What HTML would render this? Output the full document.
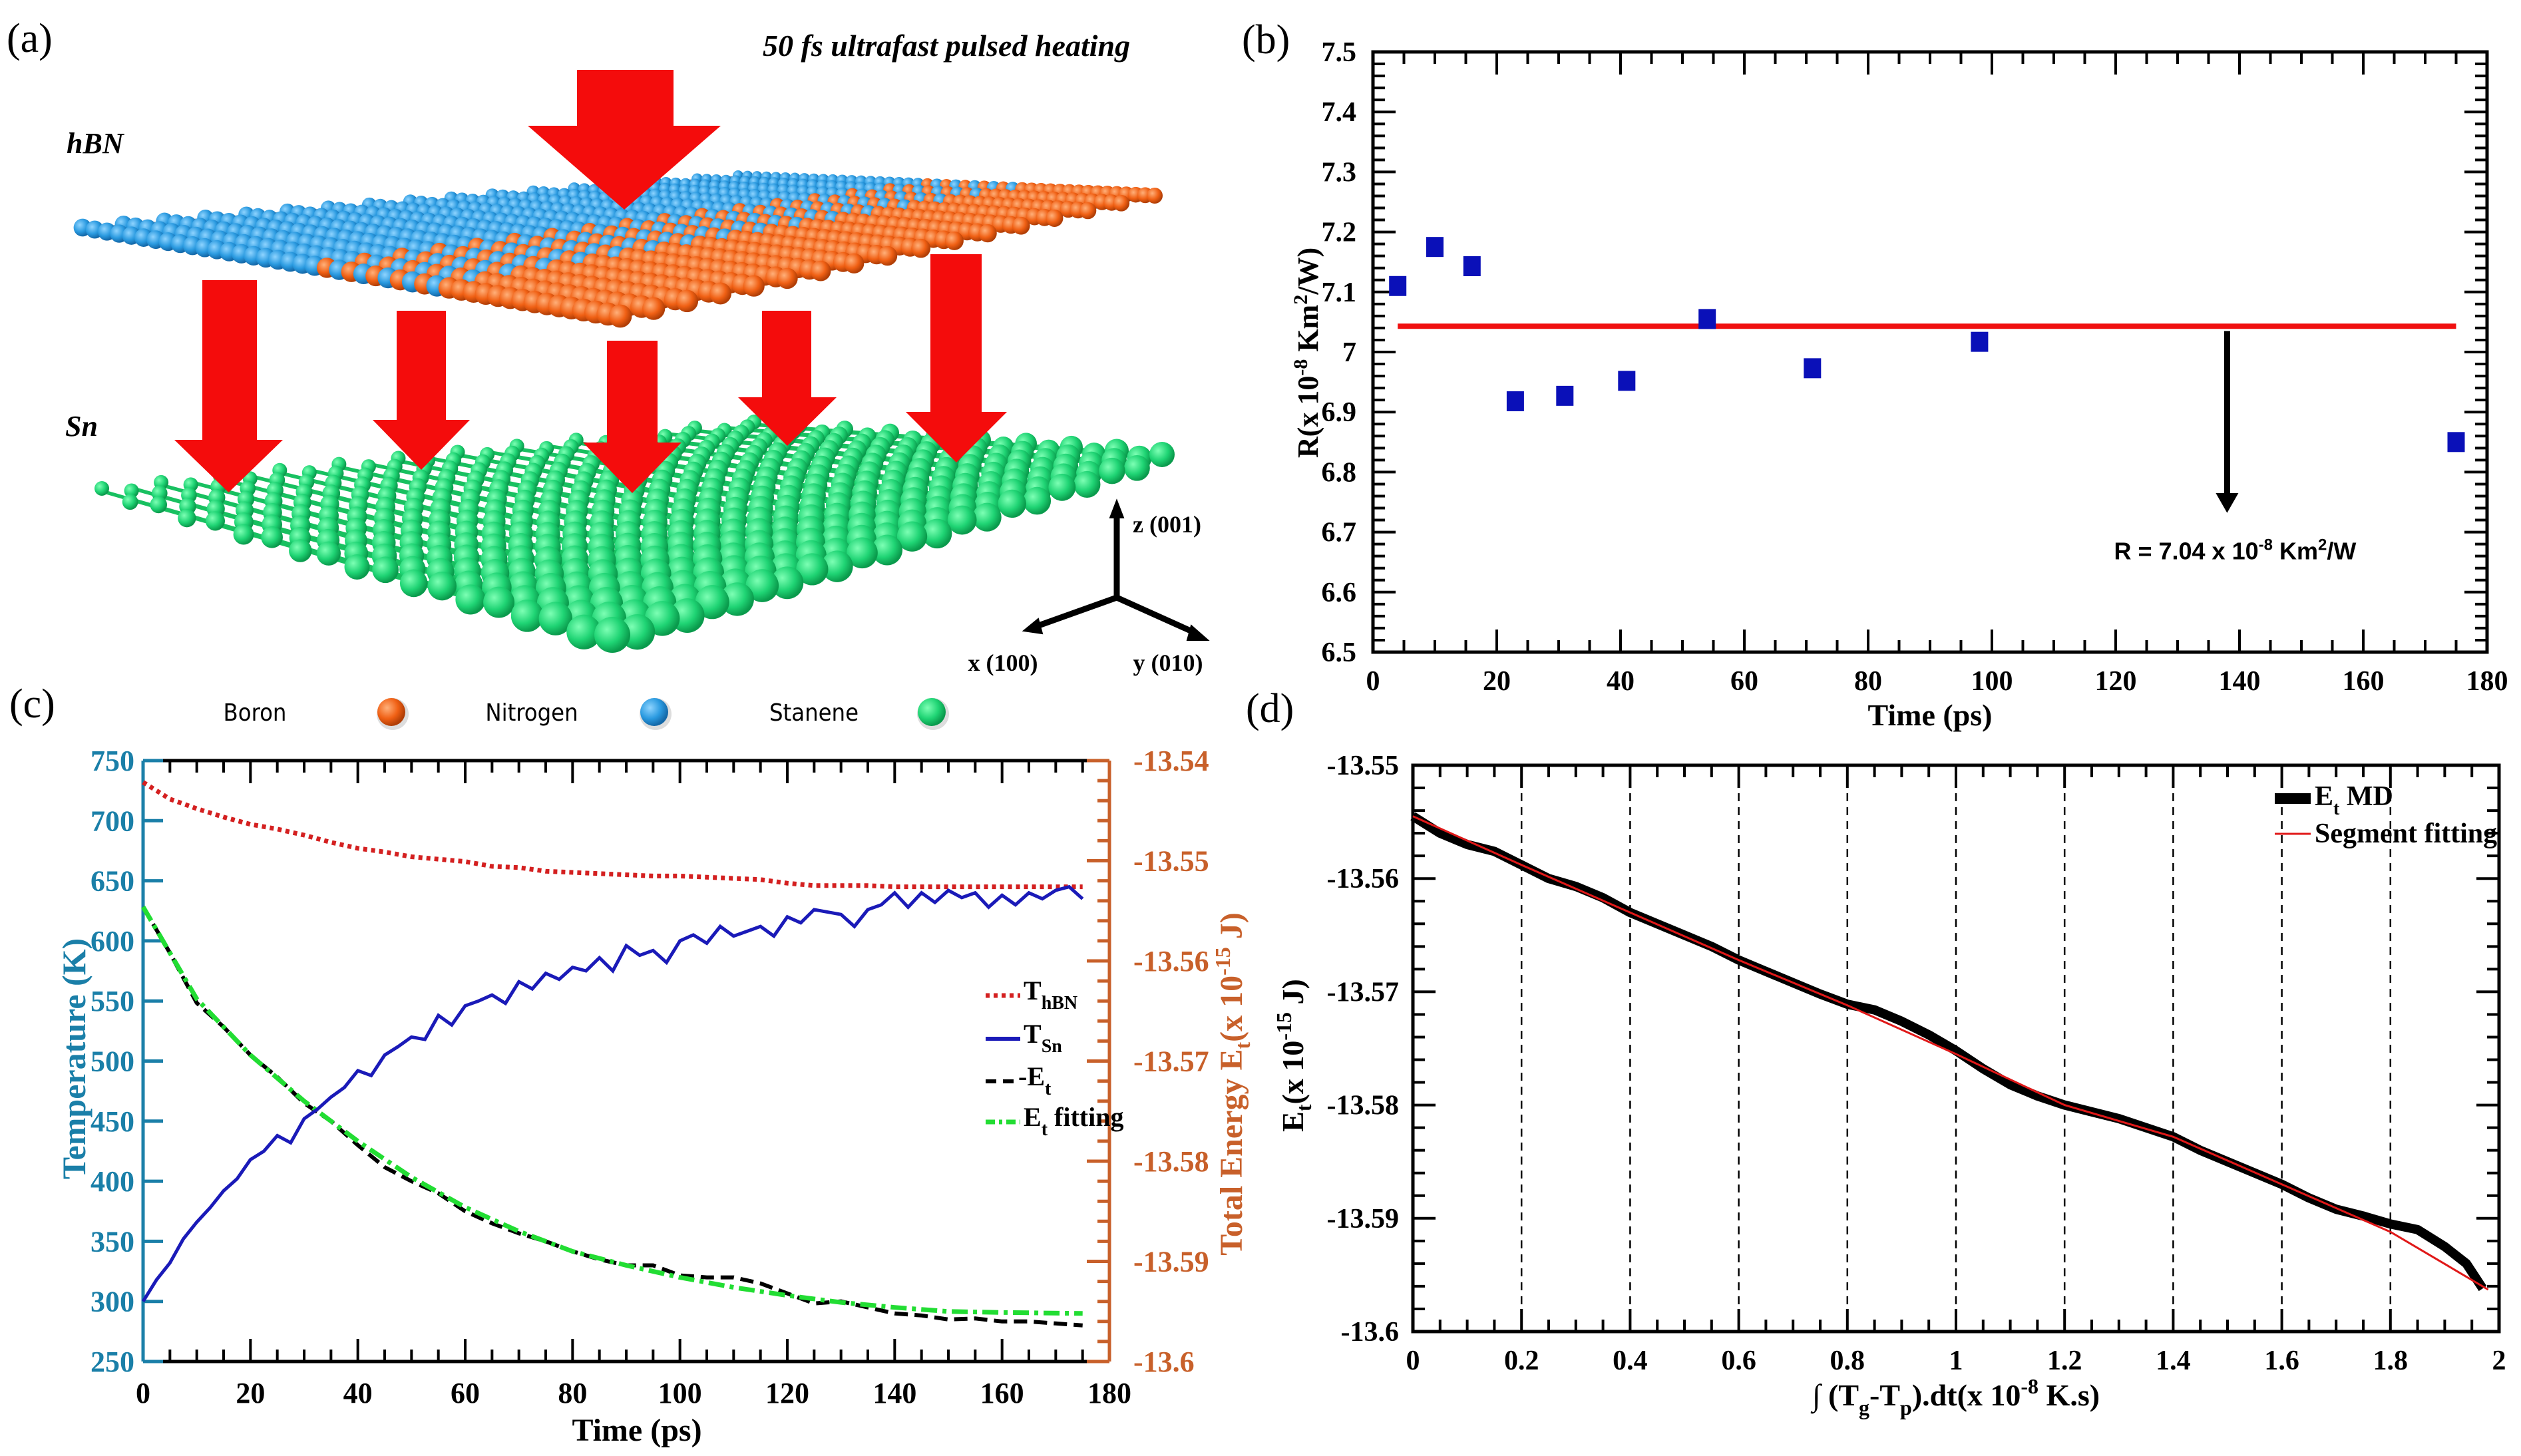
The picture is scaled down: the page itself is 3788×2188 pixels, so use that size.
<!DOCTYPE html>
<html><head><meta charset="utf-8"><style>
html,body{margin:0;padding:0;background:#fff}
svg{display:block}
text{font-family:"Liberation Serif",serif}
</style></head><body>
<svg id="fig" width="3788" height="2188" viewBox="0 0 3788 2188" xmlns="http://www.w3.org/2000/svg">
<defs>
<radialGradient id="gG" cx="35%" cy="35%" r="65%"><stop offset="0" stop-color="#7dffb4"/><stop offset="0.6" stop-color="#1fd474"/><stop offset="1" stop-color="#0a9a4c"/></radialGradient>
<radialGradient id="gB" cx="35%" cy="35%" r="65%"><stop offset="0" stop-color="#8fd4ff"/><stop offset="0.6" stop-color="#2a9ae0"/><stop offset="1" stop-color="#1468a8"/></radialGradient>
<radialGradient id="gO" cx="35%" cy="35%" r="65%"><stop offset="0" stop-color="#ffb07a"/><stop offset="0.6" stop-color="#f06014"/><stop offset="1" stop-color="#b03e06"/></radialGradient>
</defs>
<g id="panelA"></g>
<g id="panelB"></g>
<g id="panelC"></g>
<g id="panelD"></g>
</svg>
<script>
// ---------- Panel (b) data ----------
const bTimes = [4, 10, 16, 23, 31, 41, 54, 71, 98, 175];
const bR = [7.11, 7.175, 7.143, 6.918, 6.927, 6.952, 7.055, 6.973, 7.017, 6.85];
const bMean = 7.043;
const bXTicks = [0,20,40,60,80,100,120,140,160,180];
const bYTicks = ['6.5','6.6','6.7','6.8','6.9','7','7.1','7.2','7.3','7.4','7.5'];
// ---------- Panel (c) data ----------
const cTimeHBN = [0,5,10,15,20,25,30,35,40,45,50,55,60,65,70,75,80,85,90,95,100,105,110,115,120,125,130,135,140,145,150,155,160,165,170,175];
const cTHBN = [732,718,710,703,697,693,688,682,677,674,670,668,666,662,661,658,657,656,655,654,654,653,652,651,648,646,646,646,645,645,645,645,645,645,645,645];
const cTimeSn = [0,2.5,5,7.5,10,12.5,15,17.5,20,22.5,25,27.5,30,32.5,35,37.5,40,42.5,45,47.5,50,52.5,55,57.5,60,62.5,65,67.5,70,72.5,75,77.5,80,82.5,85,87.5,90,92.5,95,97.5,100,102.5,105,107.5,110,112.5,115,117.5,120,122.5,125,127.5,130,132.5,135,137.5,140,142.5,145,147.5,150,152.5,155,157.5,160,162.5,165,167.5,170,172.5,175];
const cTSn = [300,318,332,352,366,378,392,402,418,425,438,432,452,460,470,478,492,488,505,512,520,518,538,530,546,550,555,548,566,560,573,568,578,575,586,575,596,588,592,582,600,605,598,612,604,608,612,604,620,615,626,624,622,612,626,630,640,628,640,632,642,636,640,628,638,630,640,635,642,645,635];
const cTimeE = [0,5,10,15,20,25,30,35,40,45,50,55,60,65,70,75,80,85,90,95,100,105,110,115,120,125,130,135,140,145,150,155,160,165,170,175];
const cE = [-13.5546,-13.5592,-13.5642,-13.5666,-13.5694,-13.5716,-13.5742,-13.5760,-13.5784,-13.5806,-13.5820,-13.5832,-13.5850,-13.5862,-13.5872,-13.5880,-13.5890,-13.5898,-13.5904,-13.5904,-13.5914,-13.5916,-13.5916,-13.5922,-13.5932,-13.5942,-13.5940,-13.5946,-13.5952,-13.5954,-13.5958,-13.5957,-13.5960,-13.5960,-13.5962,-13.5964];
const cTimeFit = [0,10,20,30,40,50,60,70,80,90,100,110,120,130,140,150,160,175];
const cEFit = [-13.5546,-13.5638,-13.5694,-13.5740,-13.5780,-13.5816,-13.5846,-13.5870,-13.5890,-13.5904,-13.5916,-13.5926,-13.5934,-13.5941,-13.5946,-13.5950,-13.5951,-13.5952];
const cXTicks = [0,20,40,60,80,100,120,140,160,180];
const cLTicks = [250,300,350,400,450,500,550,600,650,700,750];
const cRTicks = ['-13.6','-13.59','-13.58','-13.57','-13.56','-13.55','-13.54'];
// ---------- Panel (d) data ----------
const dX = [0,0.05,0.1,0.15,0.2,0.25,0.3,0.35,0.4,0.45,0.5,0.55,0.6,0.65,0.7,0.75,0.8,0.85,0.9,0.95,1.0,1.05,1.1,1.15,1.2,1.25,1.3,1.35,1.4,1.45,1.5,1.55,1.6,1.65,1.7,1.75,1.8,1.85,1.9,1.94,1.97];
const dEMD = [-13.5545,-13.5560,-13.5570,-13.5576,-13.5588,-13.5600,-13.5607,-13.5617,-13.5630,-13.5640,-13.5650,-13.5660,-13.5672,-13.5682,-13.5692,-13.5702,-13.5711,-13.5716,-13.5726,-13.5738,-13.5752,-13.5768,-13.5782,-13.5792,-13.5800,-13.5806,-13.5812,-13.5820,-13.5828,-13.5840,-13.5850,-13.5860,-13.5870,-13.5882,-13.5892,-13.5898,-13.5905,-13.5910,-13.5925,-13.5940,-13.5962];
const dFitX = [0,0.2,0.4,0.6,0.8,1.0,1.2,1.4,1.6,1.8,1.98];
const dEFit = [-13.5545,-13.5588,-13.5630,-13.5672,-13.5712,-13.5755,-13.5800,-13.5828,-13.5870,-13.5912,-13.5963];
const dXTicks = ['0','0.2','0.4','0.6','0.8','1','1.2','1.4','1.6','1.8','2'];
const dYTicks = ['-13.6','-13.59','-13.58','-13.57','-13.56','-13.55'];

const NS='http://www.w3.org/2000/svg';
function mk(tag, attrs, parent){const e=document.createElementNS(NS,tag);for(const k in attrs)e.setAttribute(k,attrs[k]);parent.appendChild(e);return e;}
function txt(str, attrs, parent){const e=mk('text',attrs,parent);e.textContent=str;return e;}

// ===================== PANEL A =====================
const A=document.getElementById('panelA');
let t;
t=txt('(a)',{x:10,y:78,'font-size':62},A);


t=txt('50 fs ultrafast pulsed heating',{x:1146,y:84,'font-size':46,'font-weight':'bold','font-style':'italic'},A);


t=txt('hBN',{x:100,y:230,'font-size':44,'font-weight':'bold','font-style':'italic'},A);


t=txt('Sn',{x:98,y:655,'font-size':44,'font-weight':'bold','font-style':'italic'},A);



function bil(Q,u,v){ // Q: [L,B,R,F]; u along L->B (back), v along L->F
  const [L,B,R,F]=Q;
  const x=(1-u)*(1-v)*L[0]+u*(1-v)*B[0]+u*v*R[0]+(1-u)*v*F[0];
  const y=(1-u)*(1-v)*L[1]+u*(1-v)*B[1]+u*v*R[1]+(1-u)*v*F[1];
  return [x,y];
}
// green stanene sheet
const gQ=[[153,738],[1133,638],[1746,687],[920,958]];
const gSheet=mk('g',{},A);


const GU=22,GV=18;
for(let i=GU;i>=0;i--){for(let j=0;j<=GV;j++){
  const [x,y]=bil(gQ,i/GU,j/GV);
  const r=11+16*(j/GV)*(1-0.5*i/GU);
  if(j<GV){const [x2,y2]=bil(gQ,i/GU,(j+1)/GV);mk('line',{x1:x,y1:y,x2:x2,y2:y2,stroke:'#18c060','stroke-width':r*0.5},gSheet);}
}}
for(let i=GU;i>=0;i--){for(let j=0;j<=GV;j++){
  const [x,y]=bil(gQ,i/GU,j/GV);
  const r=11+16*(j/GV)*(1-0.5*i/GU);
  const c=mk('circle',{cx:x,cy:y+((i+j)%2?4:-4),r:r,fill:'url(#gG)'},gSheet);
}}
// small arrows
const arrowsSmall=[[304,386,421,661,262,425,740],[596,670,467,631,560,706,706],[912,988,512,665,876,1024,741],[1145,1219,467,597,1109,1257,670],[1398,1475,382,619,1361,1513,695]];
arrowsSmall.forEach((a,k)=>{
  const p=mk('polygon',{points:`${a[0]},${a[2]} ${a[1]},${a[2]} ${a[1]},${a[3]} ${a[5]},${a[3]} ${(a[4]+a[5])/2},${a[6]} ${a[4]},${a[3]} ${a[0]},${a[3]}`,fill:'#f40c0c'},A);
  
  
});
// hBN sheet
const hQ=[[124,342],[1109,264],[1735,294],[932,475]];
const hSheet=mk('g',{},A);


mk('polygon',{points:hQ.map(p=>p.join(',')).join(' '),fill:'#6f8fb0'},hSheet);
const HU=16,HV=44;
for(let i=HU;i>=0;i--){for(let j=0;j<=HV;j++){
  const [x,y]=bil(hQ,i/HU,j/HV);
  const r=8+9*(1-i/HU)*0.6+4*(j/HV);
  const orange=(j/HV>0.45)&&((j%2===0)||j/HV>0.7);
  mk('circle',{cx:x,cy:y,r:r,fill:orange?'url(#gO)':'url(#gB)'},hSheet);
}}
// big arrow
t=mk('polygon',{points:'867,105 1012,105 1012,189 1083,189 938,315 793,189 867,189',fill:'#f40c0c'},A);


// axes icon
const ax=mk('g',{stroke:'#000','stroke-width':9,fill:'none'},A);


mk('line',{x1:1678,y1:898,x2:1678,y2:772},ax);
mk('line',{x1:1678,y1:898,x2:1555,y2:942},ax);
mk('line',{x1:1678,y1:898,x2:1798,y2:952},ax);
mk('polygon',{points:'1678,752 1668,778 1688,778',fill:'#000','stroke-width':2},ax);
mk('polygon',{points:'1538,948 1560,930 1566,952',fill:'#000','stroke-width':2},ax);
mk('polygon',{points:'1815,962 1790,940 1784,962',fill:'#000','stroke-width':2},ax);
t=txt('z (001)',{x:1702,y:800,'font-size':36,'font-weight':'bold'},A);


t=txt('x (100)',{x:1507,y:1008,'font-size':36,'font-weight':'bold','text-anchor':'middle'},A);


t=txt('y (010)',{x:1755,y:1008,'font-size':36,'font-weight':'bold','text-anchor':'middle'},A);


// atom legend
const atomLeg=[['Boron',383,588,'url(#gO)'],['Nitrogen',799,983,'url(#gB)'],['Stanene',1223,1400,'url(#gG)']];
atomLeg.forEach(a=>{
  const g=mk('g',{},A);
  
  
  txt(a[0],{x:a[1],y:1083,'font-size':36,'text-anchor':'middle',style:'font-family:"DejaVu Sans Condensed","DejaVu Sans",sans-serif'},g);
  mk('circle',{cx:a[2]+2,cy:1073,r:24,fill:'#ddd'},g);
  mk('circle',{cx:a[2],cy:1070,r:21,fill:a[3]},g);
});

// ===================== generic axis helper =====================
function ticks(G, opts){
  // opts: {orient:'x'|'y', from,to,step, pos(v), a0 (spine coord), a1 (opposite spine), len, dir, color}
  const g=mk('g',{stroke:opts.color||'#000','stroke-width':opts.w||4},G);
  return g;
}

// ===================== PANEL B =====================
const Bg=document.getElementById('panelB');
const bx=v=>2063+v/180*(3737-2063);
const by=v=>980-(v-6.5)/1.0*(980-78);
t=txt('(b)',{x:1866,y:80,'font-size':62},Bg);


let tg=mk('g',{stroke:'#000','stroke-width':4},Bg);


for(let v=0;v<=180.001;v+=5){const L=(v%20===0)?34:18;
  mk('line',{x1:bx(v),y1:980,x2:bx(v),y2:980-L},tg);mk('line',{x1:bx(v),y1:78,x2:bx(v),y2:78+L},tg);}
for(let k=0;k<=50;k++){const v=6.5+k*0.02;const L=(k%5===0)?34:18;
  mk('line',{x1:2063,y1:by(v),x2:2063+L,y2:by(v)},tg);mk('line',{x1:3737,y1:by(v),x2:3737-L,y2:by(v)},tg);}
t=mk('rect',{x:2063,y:78,width:3737-2063,height:902,fill:'none',stroke:'#000','stroke-width':5},Bg);


bXTicks.forEach(v=>{const e=txt(String(v),{x:bx(v),y:1037,'font-size':42,'font-weight':'bold','text-anchor':'middle'},Bg);
  
  });
bYTicks.forEach(s=>{const e=txt(s,{x:2038,y:by(parseFloat(s))+14,'font-size':42,'font-weight':'bold','text-anchor':'end'},Bg);
  
  });
t=txt('Time (ps)',{x:2900,y:1090,'font-size':46,'font-weight':'bold','text-anchor':'middle'},Bg);


t=mk('text',{transform:'translate(1980,530) rotate(-90)','font-size':44,'font-weight':'bold','text-anchor':'middle'},Bg);
t.innerHTML='R(x 10<tspan dy="-16" font-size="30">-8</tspan><tspan dy="16"> Km</tspan><tspan dy="-16" font-size="30">2</tspan><tspan dy="16">/W)</tspan>';


t=mk('line',{x1:bx(4),y1:by(bMean),x2:bx(175),y2:by(bMean),stroke:'#f01010','stroke-width':8},Bg);


bTimes.forEach((v,i)=>{const r=mk('rect',{x:bx(v)-13,y:by(bR[i])-15,width:26,height:30,fill:'#0a10b8'},Bg);
  
  });
const arX=bx(138);
t=mk('g',{},Bg);


mk('line',{x1:arX,y1:by(7.035),x2:arX,y2:by(6.76),stroke:'#000','stroke-width':9},t);
mk('polygon',{points:`${arX-17},${by(6.765)} ${arX+17},${by(6.765)} ${arX},${by(6.732)}`,fill:'#000'},t);
t=mk('text',{x:arX+12,y:by(6.67)+14,'font-size':36,'font-weight':'bold','text-anchor':'middle',style:'font-family:"Liberation Sans Narrow","Liberation Sans",sans-serif'},Bg);
t.innerHTML='R = 7.04 x 10<tspan dy="-14" font-size="24">-8</tspan><tspan dy="14"> Km</tspan><tspan dy="-14" font-size="24">2</tspan><tspan dy="14">/W</tspan>';



// ===================== PANEL C =====================
const Cg=document.getElementById('panelC');
const CL=215,CR=1667,CT=1143,CB=2046;
const cx=v=>CL+v/180*(CR-CL);
const cyL=v=>CB-(v-250)/500*(CB-CT);
const cyR=v=>CB-(v+13.6)/0.06*(CB-CT);
const BLUE='#1a7fa8',ORANGE='#c8602a';
t=txt('(c)',{x:14,y:1078,'font-size':62},Cg);


tg=mk('g',{stroke:'#000','stroke-width':4},Cg);


for(let v=5;v<=175.001;v+=5){const L=(v%20===0)?34:18;
  mk('line',{x1:cx(v),y1:CB,x2:cx(v),y2:CB-L},tg);mk('line',{x1:cx(v),y1:CT,x2:cx(v),y2:CT+L},tg);}
mk('line',{x1:CL,y1:CT,x2:CR,y2:CT,stroke:'#000','stroke-width':5},Cg);
mk('line',{x1:CL,y1:CB,x2:CR,y2:CB,stroke:'#000','stroke-width':5},Cg);
const lax=mk('g',{stroke:BLUE,'stroke-width':5},Cg);


mk('line',{x1:CL,y1:CT,x2:CL,y2:CB},lax);
cLTicks.forEach(v=>mk('line',{x1:CL,y1:cyL(v),x2:CL+30,y2:cyL(v)},lax));
const rax=mk('g',{stroke:ORANGE,'stroke-width':5},Cg);


mk('line',{x1:CR,y1:CT,x2:CR,y2:CB},rax);
for(let k=0;k<=30;k++){const v=-13.6+k*0.002;const L=(k%5===0)?34:18;mk('line',{x1:CR,y1:cyR(v),x2:CR-L,y2:cyR(v)},rax);}
cXTicks.forEach(v=>{const e=txt(String(v),{x:cx(v),y:2108,'font-size':44,'font-weight':'bold','text-anchor':'middle'},Cg);
  
  });
cLTicks.forEach(v=>{const e=txt(String(v),{x:202,y:cyL(v)+15,'font-size':44,'font-weight':'bold','text-anchor':'end',fill:BLUE},Cg);
  
  });
cRTicks.forEach(s=>{const e=txt(s,{x:1703,y:cyR(parseFloat(s))+15,'font-size':44,'font-weight':'bold',fill:ORANGE},Cg);
  
  });
t=txt('Time (ps)',{x:957,y:2165,'font-size':48,'font-weight':'bold','text-anchor':'middle'},Cg);


t=txt('Temperature (K)',{transform:'translate(128,1591) rotate(-90)','font-size':50,'font-weight':'bold','text-anchor':'middle',fill:BLUE},Cg);


t=mk('text',{transform:'translate(1866,1629) rotate(-90)','font-size':48,'font-weight':'bold','text-anchor':'middle',fill:ORANGE},Cg);
t.innerHTML='Total Energy E<tspan dy="12" font-size="32">t</tspan><tspan dy="-12">(x 10</tspan><tspan dy="-18" font-size="32">-15</tspan><tspan dy="18"> J)</tspan>';


function poly(xs,ys,fx,fy){return xs.map((v,i)=>fx(v).toFixed(1)+','+fy(ys[i]).toFixed(1)).join(' ');}
t=mk('polyline',{points:poly(cTimeE,cE,cx,cyR),fill:'none',stroke:'#000','stroke-width':6,'stroke-dasharray':'20,10'},Cg);


t=mk('polyline',{points:poly(cTimeFit,cEFit,cx,cyR),fill:'none',stroke:'#22dd33','stroke-width':7,'stroke-dasharray':'24,8,6,8'},Cg);


t=mk('polyline',{points:poly(cTimeHBN,cTHBN,cx,cyL),fill:'none',stroke:'#d42020','stroke-width':7,'stroke-dasharray':'6,6'},Cg);


t=mk('polyline',{points:poly(cTimeSn,cTSn,cx,cyL),fill:'none',stroke:'#1a1ab8','stroke-width':5},Cg);


// legend c
const cLeg=mk('g',{},Cg);


mk('line',{x1:1481,y1:1496,x2:1533,y2:1496,stroke:'#d42020','stroke-width':7,'stroke-dasharray':'6,6'},cLeg);
mk('line',{x1:1481,y1:1561,x2:1533,y2:1561,stroke:'#1a1ab8','stroke-width':6},cLeg);
mk('line',{x1:1481,y1:1625,x2:1533,y2:1625,stroke:'#000','stroke-width':6,'stroke-dasharray':'16,10'},cLeg);
mk('line',{x1:1481,y1:1686,x2:1533,y2:1686,stroke:'#22dd33','stroke-width':7,'stroke-dasharray':'14,6,5,6'},cLeg);
let lt=mk('text',{x:1538,y:1502,'font-size':40,'font-weight':'bold'},cLeg);lt.innerHTML='T<tspan dy="14" font-size="28">hBN</tspan>';
lt=mk('text',{x:1538,y:1567,'font-size':40,'font-weight':'bold'},cLeg);lt.innerHTML='T<tspan dy="14" font-size="28">Sn</tspan>';
lt=mk('text',{x:1530,y:1631,'font-size':40,'font-weight':'bold'},cLeg);lt.innerHTML='-E<tspan dy="14" font-size="28">t</tspan>';
lt=mk('text',{x:1538,y:1692,'font-size':40,'font-weight':'bold'},cLeg);lt.innerHTML='E<tspan dy="14" font-size="28">t</tspan><tspan dy="-14"> fitting</tspan>';

// ===================== PANEL D =====================
const Dg=document.getElementById('panelD');
const DL=2123,DR=3755,DT=1150,DB=2001;
const dx=v=>DL+v/2*(DR-DL);
const dy=v=>DB-(v+13.6)/0.05*(DB-DT);
t=txt('(d)',{x:1872,y:1085,'font-size':62},Dg);


const grid=mk('g',{stroke:'#000','stroke-width':2.5,'stroke-dasharray':'12,9'},Dg);


for(let k=1;k<=9;k++){const v=k*0.2;mk('line',{x1:dx(v),y1:DT,x2:dx(v),y2:DB},grid);}
tg=mk('g',{stroke:'#000','stroke-width':4},Dg);


for(let k=0;k<=40;k++){const v=k*0.05;const L=(k%4===0)?34:18;
  mk('line',{x1:dx(v),y1:DB,x2:dx(v),y2:DB-L},tg);mk('line',{x1:dx(v),y1:DT,x2:dx(v),y2:DT+L},tg);}
for(let k=0;k<=25;k++){const v=-13.6+k*0.002;const L=(k%5===0)?34:18;
  mk('line',{x1:DL,y1:dy(v),x2:DL+L,y2:dy(v)},tg);mk('line',{x1:DR,y1:dy(v),x2:DR-L,y2:dy(v)},tg);}
t=mk('rect',{x:DL,y:DT,width:DR-DL,height:DB-DT,fill:'none',stroke:'#000','stroke-width':5},Dg);


dXTicks.forEach(s=>{const e=txt(s,{x:dx(parseFloat(s)),y:2058,'font-size':42,'font-weight':'bold','text-anchor':'middle'},Dg);
  
  });
dYTicks.forEach(s=>{const e=txt(s,{x:2102,y:dy(parseFloat(s))+14,'font-size':42,'font-weight':'bold','text-anchor':'end'},Dg);
  
  });
t=mk('text',{x:2939,y:2112,'font-size':46,'font-weight':'bold','text-anchor':'middle'},Dg);
t.innerHTML='∫ (T<tspan dy="14" font-size="32">g</tspan><tspan dy="-14">-T</tspan><tspan dy="14" font-size="32">p</tspan><tspan dy="-14">).dt(x 10</tspan><tspan dy="-18" font-size="32">-8</tspan><tspan dy="18"> K.s)</tspan>';


t=mk('text',{transform:'translate(1958,1586) rotate(-90)','font-size':46,'font-weight':'bold','text-anchor':'middle'},Dg);
t.innerHTML='E<tspan dy="12" font-size="32">t</tspan><tspan dy="-12">(x 10</tspan><tspan dy="-18" font-size="32">-15</tspan><tspan dy="18"> J)</tspan>';


t=mk('polyline',{points:poly(dX,dEMD,dx,dy),fill:'none',stroke:'#000','stroke-width':14,'stroke-linejoin':'round'},Dg);


t=mk('polyline',{points:poly(dFitX,dEFit,dx,dy),fill:'none',stroke:'#e01818','stroke-width':3},Dg);


const dLeg=mk('g',{},Dg);


mk('rect',{x:3418,y:1192,width:54,height:16,fill:'#000'},dLeg);
lt=mk('text',{x:3478,y:1210,'font-size':42,'font-weight':'bold'},dLeg);lt.innerHTML='E<tspan dy="14" font-size="28">t</tspan><tspan dy="-14"> MD</tspan>';
mk('line',{x1:3418,y1:1253,x2:3472,y2:1253,stroke:'#e01818','stroke-width':3},dLeg);
txt('Segment fitting',{x:3478,y:1266,'font-size':42,'font-weight':'bold'},dLeg);
</script>
</body></html>
